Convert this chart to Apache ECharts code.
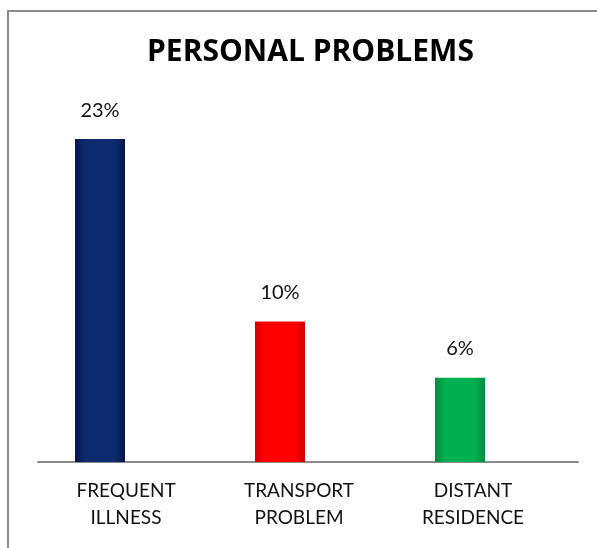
<!DOCTYPE html>
<html><head><meta charset="utf-8">
<script src="https://cdn.jsdelivr.net/npm/echarts@6/dist/echarts.min.js"></script>
<style>
html,body{margin:0;padding:0;background:#fff;}
#wrap{position:absolute;left:0;top:0;width:597px;height:548px;}
#frame{position:absolute;left:7px;top:10px;width:600px;height:560px;border-left:2px solid #8a8a8a;border-top:2px solid #8a8a8a;}
#chart{position:absolute;left:0;top:0;width:597px;height:548px;}
</style></head>
<body>
<div id="wrap"><div id="frame"></div><div id="chart"></div></div>
<script>
const title = 'PERSONAL PROBLEMS';
const categories = ['FREQUENT\nILLNESS', 'TRANSPORT\nPROBLEM', 'DISTANT\nRESIDENCE'];
const values = [23, 10, 6];
const barColors = [
  ['#06174a', '#0e2a6e', '#06174a'],
  ['#d00000', '#ff0000', '#d00000'],
  ['#008a40', '#00b050', '#008a40']
];
const labelShift = [4, 18, 30];

const chart = echarts.init(document.getElementById('chart'), null, {renderer: 'canvas'});
const grad = c => new echarts.graphic.LinearGradient(0, 0, 1, 0, [
  {offset: 0, color: c[0]}, {offset: 0.2, color: c[1]}, {offset: 0.8, color: c[1]}, {offset: 1, color: c[2]}
]);
chart.setOption({
  backgroundColor: 'transparent',
  animation: false,
  graphic: [{
    type: 'text', left: 147, top: 37,
    style: {text: title, font: 'bold 30px "Open Sans", Lato, sans-serif', fill: '#000'}
  }],
  grid: {left: 38, right: 19, top: 111, bottom: 86},
  xAxis: {
    type: 'category',
    data: categories.map((c, i) => ({value: c, textStyle: {padding: [0, labelShift[i], 0, 0]}})),
    axisLine: {lineStyle: {color: '#8a8a8a', width: 2}},
    axisTick: {show: false},
    axisLabel: {color: '#111', fontSize: 19, fontFamily: 'Lato, "Open Sans", sans-serif', lineHeight: 27, margin: 15, interval: 0}
  },
  yAxis: {type: 'value', min: 0, max: 25, show: false, splitLine: {show: false}},
  series: [{
    type: 'bar',
    barWidth: 50,
    barGap: '12%',
    data: values.map((v, i) => ({value: v, itemStyle: {color: grad(barColors[i])}})),
    label: {show: true, position: 'top', distance: 19, formatter: '{c}%', color: '#111', fontSize: 20, fontFamily: 'Lato, "Open Sans", sans-serif'}
  }, {
    type: 'bar', barWidth: 50, data: values.map(() => null)
  }]
});
</script>
</body></html>
